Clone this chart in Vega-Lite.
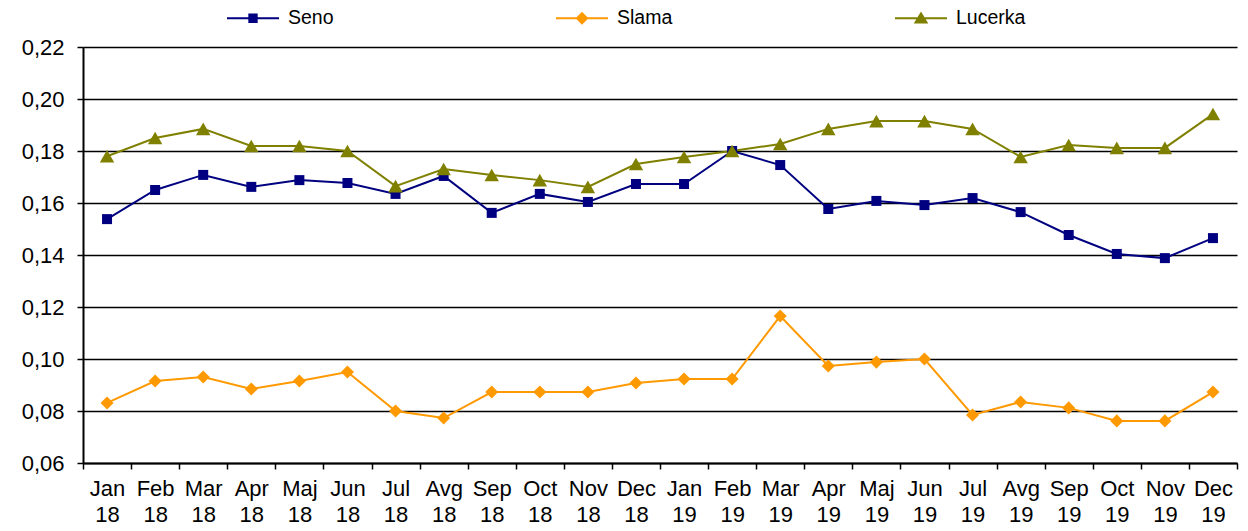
{
 "$schema": "https://vega.github.io/schema/vega-lite/v6.json",
 "width": 1154,
 "height": 416,
 "autosize": {"type": "none"},
 "padding": {"left": 83, "top": 47, "right": 11, "bottom": 68},
 "background": "white",
 "config": {"view": {"stroke": null}, "font": "Liberation Sans"},
 "datasets": {
  "d": [
   {"m":"Jan 18","s":"Seno","v":0.1538},{"m":"Feb 18","s":"Seno","v":0.165},{"m":"Mar 18","s":"Seno","v":0.1708},{"m":"Apr 18","s":"Seno","v":0.1662},{"m":"Maj 18","s":"Seno","v":0.1688},{"m":"Jun 18","s":"Seno","v":0.1677},{"m":"Jul 18","s":"Seno","v":0.1635},{"m":"Avg 18","s":"Seno","v":0.1704},{"m":"Sep 18","s":"Seno","v":0.1562},{"m":"Oct 18","s":"Seno","v":0.1635},{"m":"Nov 18","s":"Seno","v":0.1604},{"m":"Dec 18","s":"Seno","v":0.1673},
   {"m":"Jan 19","s":"Seno","v":0.1673},{"m":"Feb 19","s":"Seno","v":0.18},{"m":"Mar 19","s":"Seno","v":0.1746},{"m":"Apr 19","s":"Seno","v":0.1577},{"m":"Maj 19","s":"Seno","v":0.1608},{"m":"Jun 19","s":"Seno","v":0.1592},{"m":"Jul 19","s":"Seno","v":0.1619},{"m":"Avg 19","s":"Seno","v":0.1565},{"m":"Sep 19","s":"Seno","v":0.1477},{"m":"Oct 19","s":"Seno","v":0.1404},{"m":"Nov 19","s":"Seno","v":0.1388},{"m":"Dec 19","s":"Seno","v":0.1465},
   {"m":"Jan 18","s":"Slama","v":0.0831},{"m":"Feb 18","s":"Slama","v":0.0915},{"m":"Mar 18","s":"Slama","v":0.0931},{"m":"Apr 18","s":"Slama","v":0.0885},{"m":"Maj 18","s":"Slama","v":0.0915},{"m":"Jun 18","s":"Slama","v":0.095},{"m":"Jul 18","s":"Slama","v":0.08},{"m":"Avg 18","s":"Slama","v":0.0773},{"m":"Sep 18","s":"Slama","v":0.0873},{"m":"Oct 18","s":"Slama","v":0.0873},{"m":"Nov 18","s":"Slama","v":0.0873},{"m":"Dec 18","s":"Slama","v":0.0908},
   {"m":"Jan 19","s":"Slama","v":0.0923},{"m":"Feb 19","s":"Slama","v":0.0923},{"m":"Mar 19","s":"Slama","v":0.1165},{"m":"Apr 19","s":"Slama","v":0.0973},{"m":"Maj 19","s":"Slama","v":0.0988},{"m":"Jun 19","s":"Slama","v":0.1},{"m":"Jul 19","s":"Slama","v":0.0785},{"m":"Avg 19","s":"Slama","v":0.0835},{"m":"Sep 19","s":"Slama","v":0.0812},{"m":"Oct 19","s":"Slama","v":0.0762},{"m":"Nov 19","s":"Slama","v":0.0762},{"m":"Dec 19","s":"Slama","v":0.0873},
   {"m":"Jan 18","s":"Lucerka","v":0.178},{"m":"Feb 18","s":"Lucerka","v":0.185},{"m":"Mar 18","s":"Lucerka","v":0.1885},{"m":"Apr 18","s":"Lucerka","v":0.1819},{"m":"Maj 18","s":"Lucerka","v":0.1819},{"m":"Jun 18","s":"Lucerka","v":0.18},{"m":"Jul 18","s":"Lucerka","v":0.1665},{"m":"Avg 18","s":"Lucerka","v":0.1731},{"m":"Sep 18","s":"Lucerka","v":0.1708},{"m":"Oct 18","s":"Lucerka","v":0.1688},{"m":"Nov 18","s":"Lucerka","v":0.1662},{"m":"Dec 18","s":"Lucerka","v":0.175},
   {"m":"Jan 19","s":"Lucerka","v":0.1777},{"m":"Feb 19","s":"Lucerka","v":0.18},{"m":"Mar 19","s":"Lucerka","v":0.1827},{"m":"Apr 19","s":"Lucerka","v":0.1885},{"m":"Maj 19","s":"Lucerka","v":0.1915},{"m":"Jun 19","s":"Lucerka","v":0.1915},{"m":"Jul 19","s":"Lucerka","v":0.1885},{"m":"Avg 19","s":"Lucerka","v":0.1777},{"m":"Sep 19","s":"Lucerka","v":0.1823},{"m":"Oct 19","s":"Lucerka","v":0.1812},{"m":"Nov 19","s":"Lucerka","v":0.1812},{"m":"Dec 19","s":"Lucerka","v":0.1942}
  ]
 },
 "data": {"name": "d"},
 "encoding": {
  "x": {
   "field": "m", "type": "ordinal", "sort": null,
   "scale": {"type": "band", "paddingInner": 0, "paddingOuter": 0},
   "bandPosition": 0.5,
   "axis": {
    "title": null, "labelAngle": 0, "labelExpr": "split(datum.label, ' ')",
    "tickBand": "extent", "grid": false,
    "domainColor": "black", "domainWidth": 2,
    "tickColor": "black", "tickWidth": 1.5, "tickSize": 6,
    "labelFontSize": 22, "labelColor": "black", "labelPadding": 9, "labelLineHeight": 26
   }
  },
  "y": {
   "field": "v", "type": "quantitative",
   "scale": {"domain": [0.06, 0.22], "nice": false, "zero": false},
   "axis": {
    "title": null,
    "values": [0.06, 0.08, 0.10, 0.12, 0.14, 0.16, 0.18, 0.20, 0.22],
    "labelExpr": "replace(format(datum.value, '.2f'), '.', ',')",
    "grid": true, "gridColor": "black", "gridWidth": 1.5, "gridOpacity": 1,
    "domainColor": "black", "domainWidth": 2,
    "tickColor": "black", "tickWidth": 1.5, "tickSize": 6,
    "labelFontSize": 22, "labelColor": "black", "labelPadding": 13
   }
  },
  "color": {
   "field": "s", "type": "nominal",
   "scale": {"domain": ["Seno", "Slama", "Lucerka"], "range": ["#000080", "#FF9900", "#808000"]},
   "legend": {
    "orient": "none", "legendX": 144, "legendY": -55, "direction": "horizontal",
    "title": null, "padding": 0, "labelFontSize": 19.5, "labelColor": "black",
    "columnPadding": 222, "symbolSize": 2704, "labelOffset": 9,
    "encode": {
     "symbols": {
      "update": {
       "shape": {"signal": "datum.value === 'Seno' ? 'M-1,-0.04H1V0.04H-1Z M-0.18,-0.18H0.18V0.18H-0.18Z' : datum.value === 'Slama' ? 'M-1,-0.04H1V0.04H-1Z M0,-0.25L0.25,0L0,0.25L-0.25,0Z' : 'M-1,-0.04H1V0.04H-1Z M0,-0.26L0.28,0.2L-0.28,0.2Z'"},
       "fill": {"signal": "datum.value === 'Seno' ? '#000080' : datum.value === 'Slama' ? '#FF9900' : '#808000'"},
       "fillOpacity": {"value": 1},
       "strokeWidth": {"value": 0},
       "size": {"value": 2704}
      }
     }
    }
   }
  }
 },
 "layer": [
  {"mark": {"type": "line", "strokeWidth": 2}},
  {
   "transform": [{"filter": "datum.s === 'Seno'"}],
   "mark": {"type": "point", "filled": true, "opacity": 1, "shape": "square", "size": 100}
  },
  {
   "transform": [{"filter": "datum.s === 'Slama'"}],
   "mark": {"type": "point", "filled": true, "opacity": 1, "shape": "diamond", "size": 170}
  },
  {
   "transform": [{"filter": "datum.s === 'Lucerka'"}],
   "mark": {"type": "point", "filled": true, "opacity": 1, "shape": "triangle-up", "size": 210}
  }
 ]
}
